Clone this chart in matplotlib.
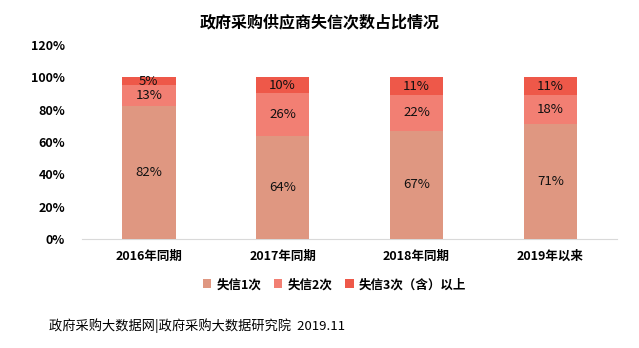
import numpy as np
import matplotlib.pyplot as plt

plt.rcParams['font.family'] = ['Noto Sans CJK SC', 'DejaVu Sans']

years = ['2016年同期', '2017年同期', '2018年同期', '2019年以来']
once = [82, 64, 67, 71]
twice = [13, 26, 22, 18]
thrice = [5, 10, 11, 11]
series_names = ['失信1次', '失信2次', '失信3次（含）以上']
colours = ['#DF9781', '#F27F73', '#EE5849']

fig = plt.figure(figsize=(6.39, 3.48), dpi=100)
ax = fig.add_axes([0.128, 0.313, 0.838, 0.558])

x = np.arange(len(years))
bottom = np.zeros(len(years))
for vals, name, col in zip([once, twice, thrice], series_names, colours):
    vals = np.array(vals)
    ax.bar(x, vals, 0.4, bottom=bottom, color=col, label=name, zorder=3)
    for xi, b, v in zip(x, bottom, vals):
        ax.text(xi, b + v / 2, f'{v}%', ha='center', va='center',
                fontsize=9.5, fontweight='medium', color='#111111', zorder=4)
    bottom += vals

ax.set_xlim(-0.5, 3.5)
ax.set_ylim(0, 120)
ax.set_yticks(np.arange(0, 121, 20))
ax.set_yticklabels([f'{t}%' for t in range(0, 121, 20)], fontsize=9, fontweight='bold')
ax.set_xticks(x)
ax.set_xticklabels(years, fontsize=9, fontweight='bold')
for s in ['top', 'right', 'left']:
    ax.spines[s].set_visible(False)
ax.spines['bottom'].set_color('#D9D9D9')
ax.tick_params(axis='both', length=0)
ax.tick_params(axis='x', pad=8)
ax.tick_params(axis='y', pad=12)

fig.text(0.5, 0.935, '政府采购供应商失信次数占比情况', ha='center', va='center',
         fontsize=11.5, fontweight='bold')
fig.legend(loc='center', bbox_to_anchor=(0.523, 0.182), ncol=3, frameon=False,
           handlelength=0.7, handleheight=0.7, columnspacing=1.0,
           handletextpad=0.4, prop={'weight': 'bold', 'size': 9})
fig.text(0.076, 0.065, '政府采购大数据网|政府采购大数据研究院  2019.11', ha='left',
         va='center', fontsize=9.5)

fig.savefig('out.png', dpi=100)
